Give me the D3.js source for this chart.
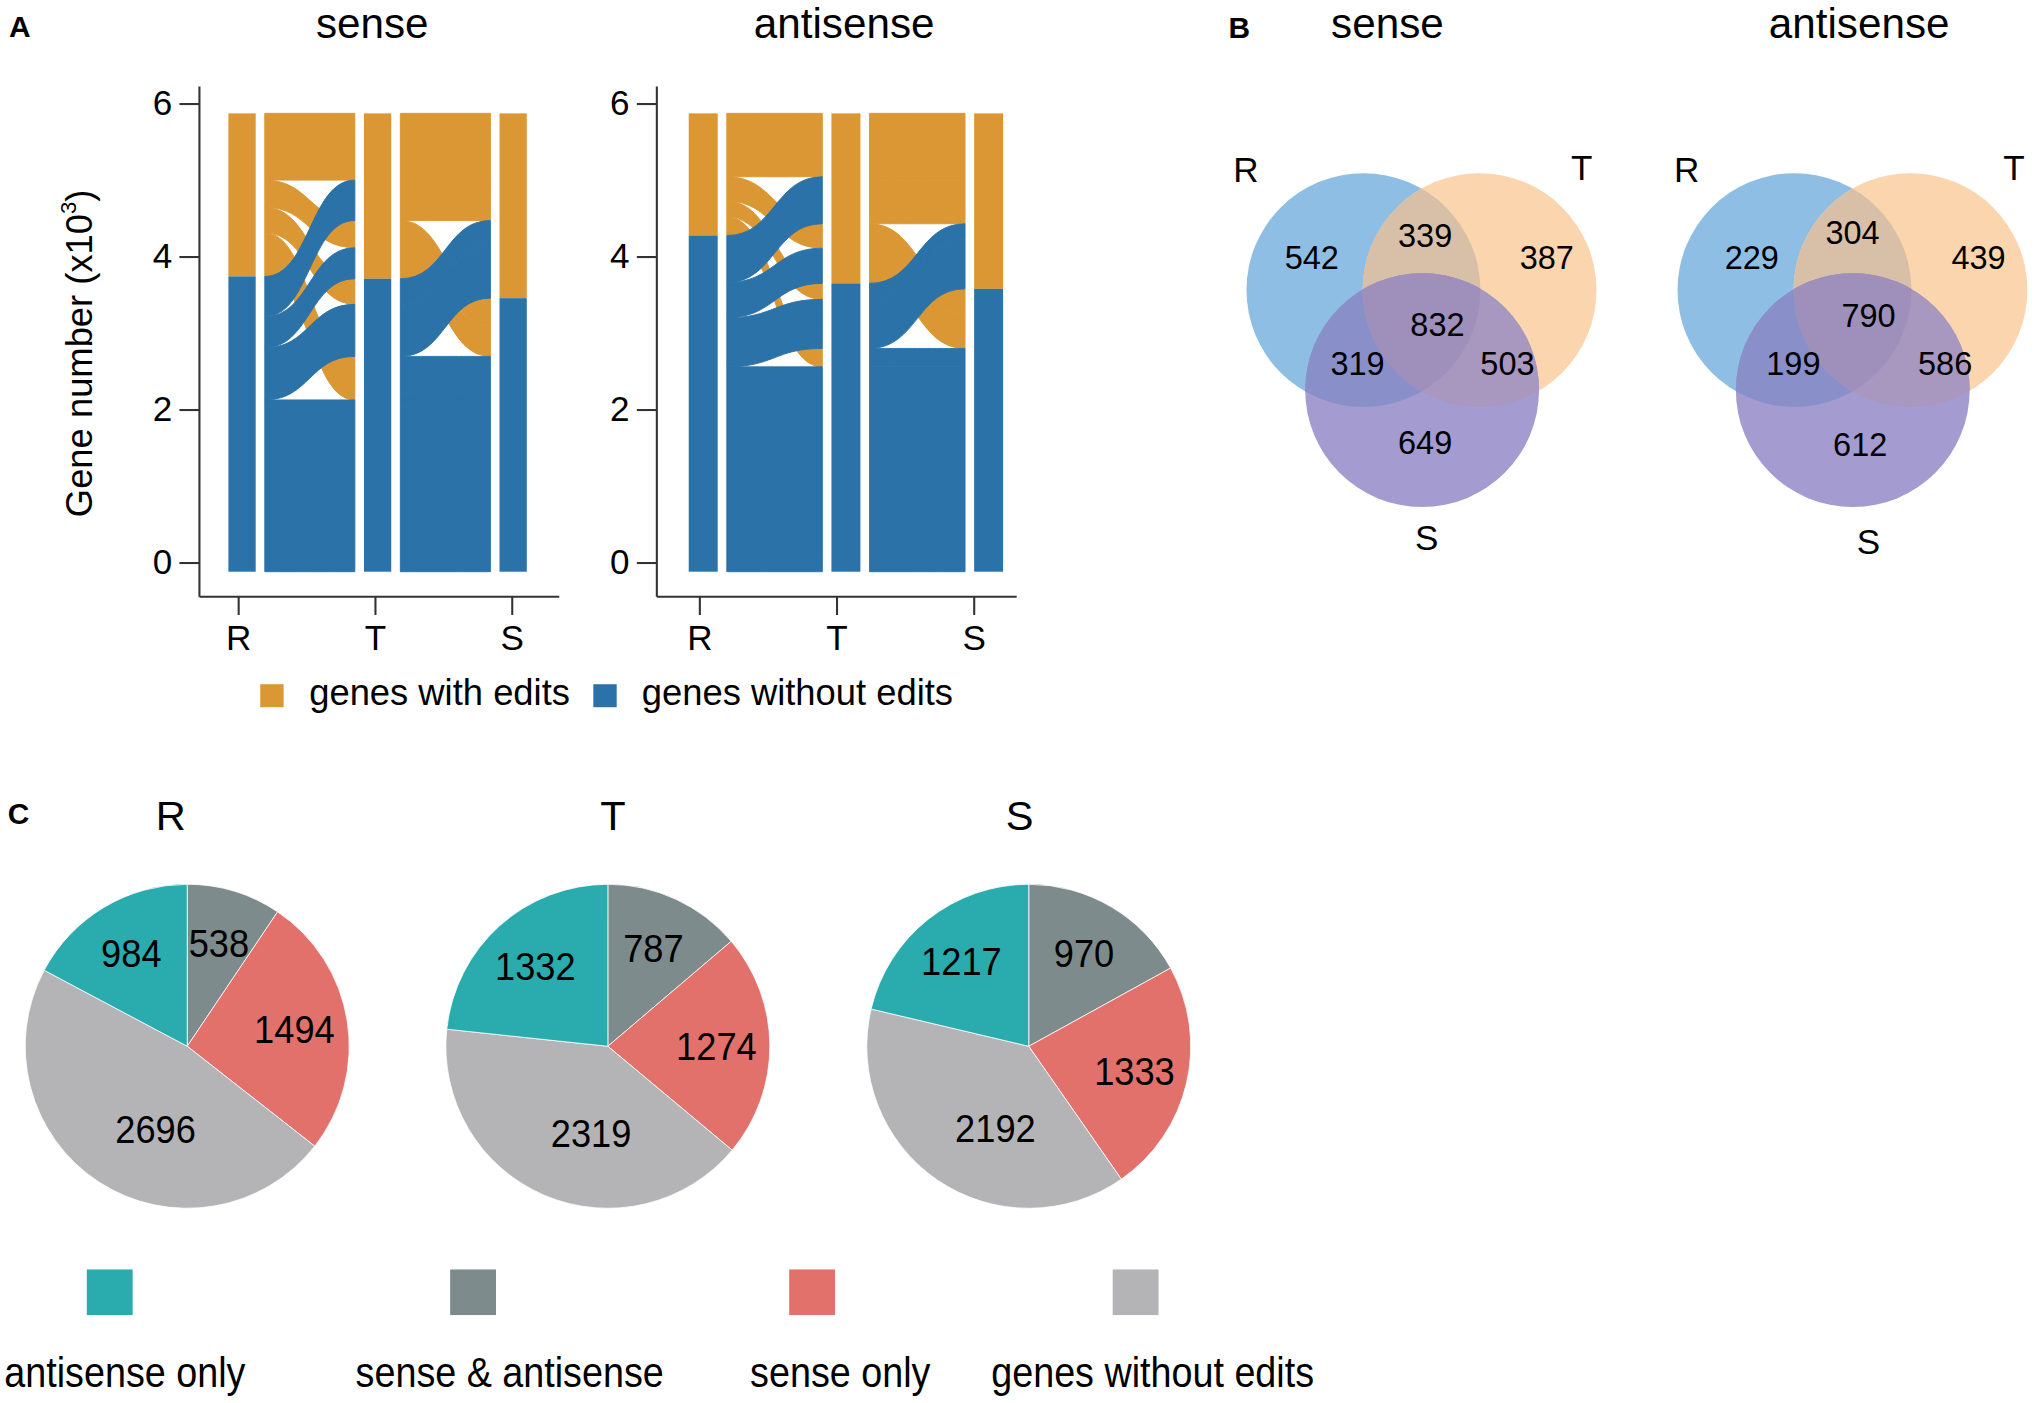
<!DOCTYPE html>
<html><head><meta charset="utf-8">
<script src="https://cdn.jsdelivr.net/npm/d3@7"></script>
<style>
html,body{margin:0;padding:0;background:#fff;}
svg{display:block;font-family:"Liberation Sans",Arial,Helvetica,sans-serif;}
</style></head><body>
<script>
// ---------------- DATA ----------------
const tissues = ["R", "T", "S"];
const yTicks = [0, 2, 4, 6];
const totalGenes = 5712;
const vennRegions = ["R", "T", "S", "RT", "RS", "TS", "RTS"];
const senseVenn = [542, 387, 649, 339, 319, 503, 832];
const antisenseVenn = [229, 439, 612, 304, 199, 586, 790];
const statusNames = ["genes with edits", "genes without edits"];
const pieCategories = ["sense & antisense", "sense only", "genes without edits", "antisense only"];
const pieR = [538, 1494, 2696, 984];
const pieT = [787, 1274, 2319, 1332];
const pieS = [970, 1333, 2192, 1217];
const pieLegendOrder = ["antisense only", "sense & antisense", "sense only", "genes without edits"];

// ---------------- STYLE / LAYOUT ----------------
const W = 1568, H = 1080;
const statusColor = ["#db9733", "#2a72a8"];
const pieColor = {"antisense only": "#2aacae", "sense & antisense": "#7e8b8c", "sense only": "#e2716c", "genes without edits": "#b4b4b6"};
const vennColor = {R: "#8fbee5", T: "#fad5ad", S: "#a49bd1", RT: "#d8c0a8", RS: "#8990c9", TS: "#a897be", RTS: "#9e90bb"};
const axisColor = "#333";

const svg = d3.select("body").append("svg")
  .attr("width", 2037).attr("height", 1403)
  .attr("viewBox", `0 0 ${W} ${H}`);

function panelLetter(txt, x, y) {
  svg.append("text").attr("x", x).attr("y", y).attr("font-size", 23).attr("font-weight", "bold").text(txt);
}

// ---------------- PANEL A: alluvial ----------------
const yAxis = d3.scaleLinear().domain([0, 6]).range([432.9, 79.6]);
const stackTop = 5.87, stackBottom = -0.122;
const yStack = d3.scaleLinear().domain([0, totalGenes]).range([yAxis(stackTop), yAxis(stackBottom)]);

function alluvial(cfg) {
  const g = svg.append("g");
  const venn = cfg.venn;
  const combos = [];
  for (const r of [1, 0]) for (const t of [1, 0]) for (const s of [1, 0]) {
    const key = (r ? "R" : "") + (t ? "T" : "") + (s ? "S" : "");
    const n = key ? venn[vennRegions.indexOf(key)] : totalGenes - d3.sum(venn);
    combos.push({f: [r, t, s], n});
  }
  const priority = [[0, 1, 2], [1, 2, 0], [2, 1, 0]];
  const pos = priority.map(pr => {
    const order = combos.map((c, i) => i).sort((a, b) => {
      for (const k of pr) { const d = combos[b].f[k] - combos[a].f[k]; if (d) return d; }
      return 0;
    });
    const p = new Array(combos.length); let acc = 0;
    for (const i of order) { p[i] = [acc, acc + combos[i].n]; acc += combos[i].n; }
    return p;
  });

  const xs = d3.scalePoint().domain(tissues).range(cfg.strataRange);
  const sw = cfg.strataW, gap = 7;

  function ribbon(x0, x1, a, b) {
    const xm = (x0 + x1) / 2, p = d3.path();
    p.moveTo(x0, yStack(a[0]));
    p.bezierCurveTo(xm, yStack(a[0]), xm, yStack(b[0]), x1, yStack(b[0]));
    p.lineTo(x1, yStack(b[1]));
    p.bezierCurveTo(xm, yStack(b[1]), xm, yStack(a[1]), x0, yStack(a[1]));
    p.closePath();
    return p.toString();
  }

  // flows
  for (let ai = 0; ai < tissues.length - 1; ai++) {
    const x0 = xs(tissues[ai]) + sw / 2 + gap;
    const x1 = xs(tissues[ai + 1]) - sw / 2 - gap;
    for (const flag of [1, 0]) {
      combos.forEach((c, i) => {
        if (c.f[ai] !== flag) return;
        const col = statusColor[flag ? 0 : 1];
        g.append("path").attr("d", ribbon(x0, x1, pos[ai][i], pos[ai + 1][i]))
          .attr("fill", col).attr("stroke", col).attr("stroke-width", 0.7);
      });
    }
  }
  // strata
  tissues.forEach((t, ai) => {
    const nWith = d3.sum(combos.filter(c => c.f[ai] === 1), c => c.n);
    const segs = [[0, nWith], [nWith, totalGenes]];
    segs.forEach((s, k) => {
      g.append("rect").attr("x", xs(t) - sw / 2).attr("width", sw)
        .attr("y", yStack(s[0])).attr("height", yStack(s[1]) - yStack(s[0]))
        .attr("fill", statusColor[k]);
    });
  });

  // axes
  const ax = cfg.axisX;
  const yAx = g.append("g").attr("transform", `translate(${ax},0)`)
    .call(d3.axisLeft(yAxis).tickValues(yTicks).tickFormat(d3.format("d")).tickSize(15.4).tickPadding(5.6));
  yAx.select(".domain").remove();
  yAx.selectAll("line").attr("stroke", axisColor).attr("stroke-width", 1.6);
  yAx.selectAll("text").attr("font-size", 27).attr("fill", "#000").attr("font-family", "Liberation Sans, Arial, sans-serif");
  const yBase = yAxis(-0.45);
  g.append("line").attr("x1", ax).attr("x2", ax).attr("y1", yAxis(6.22)).attr("y2", yBase)
    .attr("stroke", axisColor).attr("stroke-width", 1.6);
  g.append("line").attr("x1", ax).attr("x2", ax + 277).attr("y1", yBase).attr("y2", yBase)
    .attr("stroke", axisColor).attr("stroke-width", 1.6);
  const xt = d3.scalePoint().domain(tissues).range(cfg.tickRange);
  const xAx = g.append("g").attr("transform", `translate(0,${yBase})`)
    .call(d3.axisBottom(xt).tickSize(14).tickPadding(8));
  xAx.select(".domain").remove();
  xAx.selectAll("line").attr("stroke", axisColor).attr("stroke-width", 1.6);
  xAx.selectAll("text").attr("font-size", 27).attr("fill", "#000").attr("font-family", "Liberation Sans, Arial, sans-serif");

  g.append("text").attr("x", cfg.titleX).attr("y", 29.5).attr("text-anchor", "middle")
    .attr("font-size", 32.5).text(cfg.title);
}

panelLetter("A", 7, 28.3);
alluvial({venn: senseVenn, title: "sense", titleX: 286.5, axisX: 153.5,
  strataRange: [186.3, 395], strataW: 21, tickRange: [183.2, 393.8]});
alluvial({venn: antisenseVenn, title: "antisense", titleX: 649.8, axisX: 505.6,
  strataRange: [541.3, 761], strataW: 22.3, tickRange: [538.2, 749.4]});

// y label
const yl = svg.append("text").attr("transform", "translate(61,272) rotate(-90)")
  .attr("text-anchor", "middle").attr("dy", "0.36em").attr("font-size", 28);
yl.append("tspan").text("Gene number (x10");
yl.append("tspan").attr("font-size", 17).attr("dy", "-0.75em").text("3");
yl.append("tspan").attr("dy", "0.45em").text(")");

// legend A
const legA = [{x: 200.3, tx: 238}, {x: 456.7, tx: 494}];
statusNames.forEach((nm, i) => {
  svg.append("rect").attr("x", legA[i].x).attr("y", 526.7).attr("width", 18).attr("height", 17.7).attr("fill", statusColor[i]);
  svg.append("text").attr("x", legA[i].tx).attr("y", 542.6).attr("font-size", 28).text(nm);
});

// ---------------- PANEL B: Venn ----------------
panelLetter("B", 945.6, 28.9);
function venn(cfg) {
  const g = svg.append("g");
  const id = cfg.id;
  const r = 90;
  const c = {R: cfg.centers[0], T: cfg.centers[1], S: cfg.centers[2]};
  const defs = g.append("defs");
  tissues.forEach(t => {
    defs.append("clipPath").attr("id", `${id}-${t}`).append("circle")
      .attr("cx", c[t][0]).attr("cy", c[t][1]).attr("r", r);
  });
  const circ = (sel, t, fill) => sel.append("circle").attr("cx", c[t][0]).attr("cy", c[t][1]).attr("r", r).attr("fill", fill);
  circ(g, "R", vennColor.R);
  circ(g, "T", vennColor.T);
  circ(g, "S", vennColor.S);
  circ(g, "T", vennColor.RT).attr("clip-path", `url(#${id}-R)`);
  circ(g, "S", vennColor.RS).attr("clip-path", `url(#${id}-R)`);
  circ(g, "S", vennColor.TS).attr("clip-path", `url(#${id}-T)`);
  const gg = g.append("g").attr("clip-path", `url(#${id}-R)`);
  circ(gg, "S", vennColor.RTS).attr("clip-path", `url(#${id}-T)`);

  cfg.values.forEach((v, i) => {
    const p = cfg.labelPos[vennRegions[i]];
    g.append("text").attr("x", p[0]).attr("y", p[1]).attr("dy", "0.35em")
      .attr("text-anchor", "middle").attr("font-size", 25).text(v);
  });
  tissues.forEach((t, i) => {
    const p = cfg.setLabelPos[i];
    g.append("text").attr("x", p[0]).attr("y", p[1]).attr("text-anchor", "middle").attr("font-size", 27).text(t);
  });
  g.append("text").attr("x", cfg.titleX).attr("y", 29.5).attr("text-anchor", "middle").attr("font-size", 32.5).text(cfg.title);
}
venn({id: "vs", title: "sense", titleX: 1068, values: senseVenn,
  centers: [[1049.5, 223.3], [1138.9, 223.3], [1094.7, 300.3]],
  labelPos: {R: [1009.8, 198], T: [1190.7, 198], S: [1097, 341], RT: [1097, 181.5], RS: [1045, 280], TS: [1160.4, 280], RTS: [1106.5, 250]},
  setLabelPos: [[959, 140.2], [1217.6, 138.8], [1098.3, 423.4]]});
venn({id: "va", title: "antisense", titleX: 1431.1, values: antisenseVenn,
  centers: [[1381.3, 223.3], [1470.6, 223.3], [1426.2, 300.3]],
  labelPos: {R: [1348.5, 198], T: [1523, 198], S: [1431.9, 342.3], RT: [1426, 178.7], RS: [1380.5, 280], TS: [1497.3, 280], RTS: [1438.3, 243.3]},
  setLabelPos: [[1298.4, 140.2], [1550.2, 138.8], [1438.3, 426.2]]});

// ---------------- PANEL C: pies ----------------
panelLetter("C", 6, 634);
const pieLayout = [
  {name: "R", values: pieR, cx: 144.1, titleX: 131.5},
  {name: "T", values: pieT, cx: 467.9, titleX: 471.8},
  {name: "S", values: pieS, cx: 791.9, titleX: 784.8}
];
const pieCY = 805.4, pieRad = 124.7;
const pieGen = d3.pie().sort(null).value(d => d.v);
const arcGen = d3.arc().innerRadius(0).outerRadius(pieRad);
const labelNudge = {"genes without edits": {da: -12 * Math.PI / 180, rf: 0.545}};
pieLayout.forEach(pl => {
  const g = svg.append("g").attr("transform", `translate(${pl.cx},${pieCY})`);
  const arcs = pieGen(pl.values.map((v, i) => ({v, cat: pieCategories[i]})));
  g.selectAll("path.sl").data(arcs).enter().append("path").attr("class", "sl")
    .attr("d", arcGen).attr("fill", d => pieColor[d.data.cat])
    .attr("stroke", "#fff").attr("stroke-width", 0.6);
  arcs.forEach(a => {
    const nud = labelNudge[a.data.cat] || {da: 0, rf: 0.67};
    const ang = (a.startAngle + a.endAngle) / 2 + nud.da;
    const rr = pieRad * nud.rf;
    const x = Math.sin(ang) * rr, y = -Math.cos(ang) * rr;
    g.append("text").attr("transform", `translate(${x},${y}) scale(0.93,1)`)
      .attr("text-anchor", "middle").attr("dy", "0.36em").attr("font-size", 30).text(a.data.v);
  });
  svg.append("text").attr("x", pl.titleX).attr("y", 639).attr("text-anchor", "middle")
    .attr("font-size", 32).text(pl.name);
});

// legend C
const legC = [{sx: 66.8, tx: 3.3}, {sx: 346.5, tx: 273.7}, {sx: 607.5, tx: 577.4}, {sx: 856.5, tx: 763}];
pieLegendOrder.forEach((cat, i) => {
  svg.append("rect").attr("x", legC[i].sx).attr("y", 977.2).attr("width", 35.3).attr("height", 35.1)
    .attr("fill", pieColor[cat]);
  svg.append("text").attr("transform", `translate(${legC[i].tx},1067.5) scale(0.88,1)`)
    .attr("font-size", 33).text(cat);
});
</script>
</body></html>
